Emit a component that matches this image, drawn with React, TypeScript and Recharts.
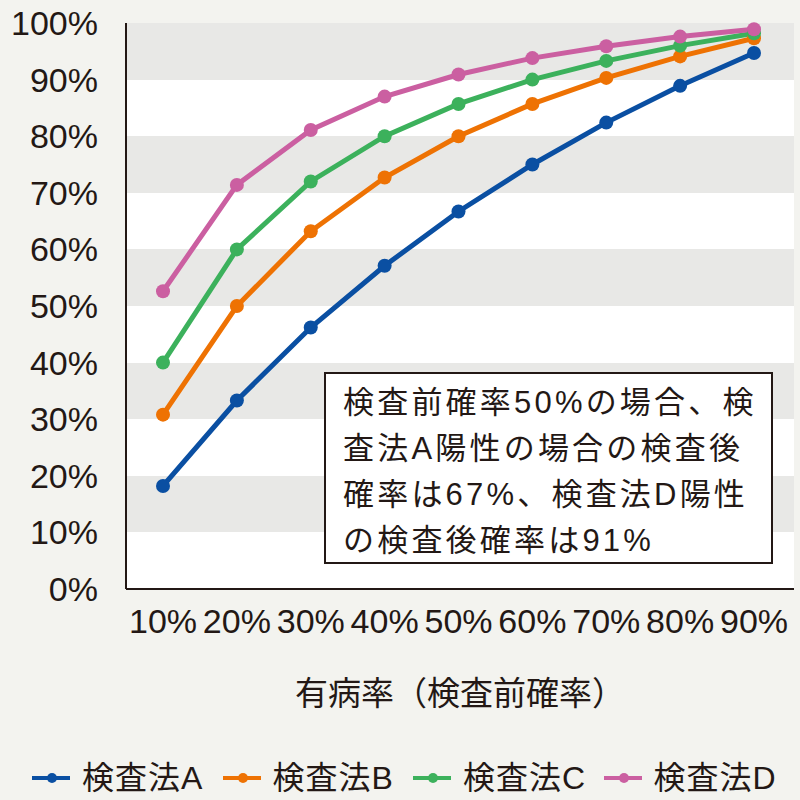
import { LineChart, Line, XAxis, YAxis, CartesianGrid, Legend } from 'recharts'

// pre-test probability (x axis)
const categories = ['10%', '20%', '30%', '40%', '50%', '60%', '70%', '80%', '90%']

// post-test probability (%)
const methodA = [18.2, 33.3, 46.2, 57.1, 66.7, 75.0, 82.4, 88.9, 94.7]
const methodB = [30.8, 50.0, 63.2, 72.7, 80.0, 85.7, 90.3, 94.1, 97.3]
const methodC = [40.0, 60.0, 72.0, 80.0, 85.7, 90.0, 93.3, 96.0, 98.2]
const methodD = [52.6, 71.4, 81.1, 87.0, 90.9, 93.8, 95.9, 97.6, 98.9]

const yTicks = [0, 10, 20, 30, 40, 50, 60, 70, 80, 90, 100]
// stripes from the top band (90-100%) down: grey, white, grey ...
const stripeFills = ['#e8e8e6', '#ffffff']

const SERIES = [
  { key: 'a', label: '検査法A', color: '#0a4fa2', values: methodA },
  { key: 'b', label: '検査法B', color: '#ee7203', values: methodB },
  { key: 'c', label: '検査法C', color: '#3cb15c', values: methodC },
  { key: 'd', label: '検査法D', color: '#cb5fa1', values: methodD },
]

const noteLines = [
  '検査前確率50%の場合、検',
  '査法A陽性の場合の検査後',
  '確率は67%、検査法D陽性',
  'の検査後確率は91%',
]

const data = categories.map((cat, i) => {
  const row: Record<string, string | number> = { cat }
  SERIES.forEach((s) => { row[s.key] = s.values[i] })
  return row
})

const INK = '#231815'
const FONT = '"Liberation Sans", "Noto Sans CJK JP", sans-serif'

function LegendContent() {
  return (
    <div style={{ display: 'flex', height: 60, paddingTop: 16, paddingLeft: 32, boxSizing: 'border-box' }}>
      {SERIES.map((s) => (
        <div key={s.key} style={{ width: 197, display: 'flex', alignItems: 'center', height: 44 }}>
          <svg width={38} height={14} style={{ marginRight: 12 }}>
            <line x1={0} y1={7} x2={38} y2={7} stroke={s.color} strokeWidth={4} />
            <circle cx={20} cy={7} r={5} fill={s.color} />
          </svg>
          <span style={{ fontFamily: FONT, fontSize: 32, color: INK, letterSpacing: 1, lineHeight: '44px' }}>
            {s.label}
          </span>
        </div>
      ))}
    </div>
  )
}

export default function App() {
  return (
    <div style={{ position: 'relative', width: 800, height: 800, background: '#f3f3ef' }}>
      <style>{'body{margin:0}'}</style>
      <LineChart width={800} height={800} data={data} margin={{ top: 23, right: 6, bottom: 0, left: 0 }}>
        <CartesianGrid
          vertical={false}
          stroke="transparent"
          horizontalFill={stripeFills}
          fillOpacity={1}
        />
        <XAxis
          dataKey="cat"
          height={151}
          padding={{ left: 37, right: 40 }}
          tickSize={0}
          tickMargin={20}
          axisLine={{ stroke: INK, strokeWidth: 2 }}
          tick={{ fontSize: 34, fill: INK, fontFamily: FONT }}
          interval={0}
          label={{
            value: '有病率（検査前確率）',
            position: 'insideBottom',
            offset: 35,
            style: { fontSize: 33, fill: INK, fontFamily: FONT },
          }}
        />
        <YAxis
          width={126}
          domain={[0, 100]}
          ticks={yTicks}
          tickFormatter={(v) => `${v}%`}
          tickSize={0}
          tickMargin={28}
          axisLine={{ stroke: INK, strokeWidth: 2 }}
          tick={{ fontSize: 34, fill: INK, fontFamily: FONT }}
          interval={0}
        />
        <Legend verticalAlign="bottom" height={60} content={<LegendContent />} />
        {SERIES.map((s) => (
          <Line
            key={s.key}
            dataKey={s.key}
            name={s.label}
            stroke={s.color}
            strokeWidth={5}
            dot={{ r: 7, fill: s.color, stroke: 'none' }}
            isAnimationActive={false}
          />
        ))}
      </LineChart>
      <div
        style={{
          position: 'absolute',
          left: 324,
          top: 372,
          width: 449,
          height: 192,
          boxSizing: 'border-box',
          border: `2px solid ${INK}`,
          background: '#ffffff',
          padding: '6px 0 0 17px',
          fontFamily: FONT,
          fontSize: 31,
          letterSpacing: 3.2,
          lineHeight: '46px',
          color: INK,
          whiteSpace: 'pre',
        }}
      >
        {noteLines.map((l) => (
          <div key={l}>{l}</div>
        ))}
      </div>
    </div>
  )
}
